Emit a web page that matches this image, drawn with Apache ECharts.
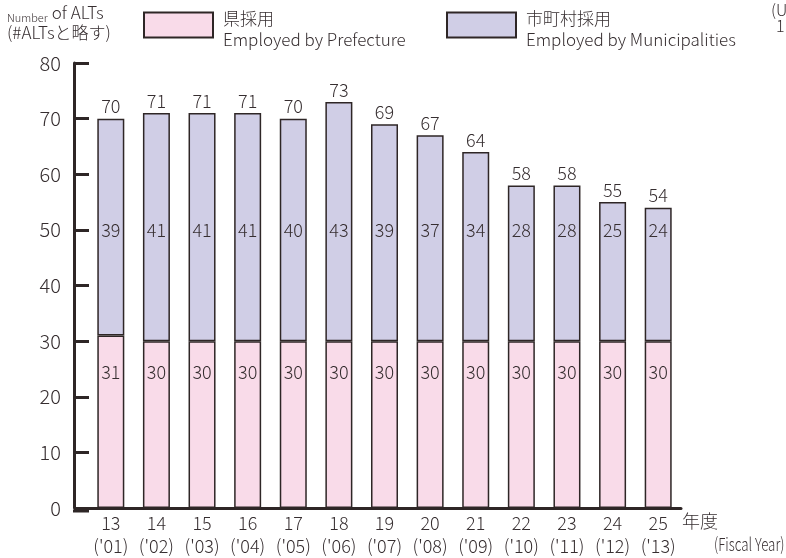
<!DOCTYPE html>
<html>
<head>
<meta charset="utf-8">
<script src="https://cdn.jsdelivr.net/npm/echarts@6/dist/echarts.min.js"></script>
<style>
  html, body { margin: 0; padding: 0; background: #fff; }
  #main { width: 786px; height: 558px; }
</style>
</head>
<body>
<div id="main"></div>
<script>
// 年度ラベル
var years = ['13', '14', '15', '16', '17', '18', '19', '20', '21', '22', '23', '24', '25'];
var fiscal = ["('01)", "('02)", "('03)", "('04)", "('05)", "('06)", "('07)", "('08)", "('09)", "('10)", "('11)", "('12)", "('13)"];
// 県採用 / 市町村採用
var prefecture = [31, 30, 30, 30, 30, 30, 30, 30, 30, 30, 30, 30, 30];
var municipal = [39, 41, 41, 41, 40, 43, 39, 37, 34, 28, 28, 25, 24];
var yTicks = [0, 10, 20, 30, 40, 50, 60, 70, 80];

var totals = prefecture.map(function (v, i) { return v + municipal[i]; });

var FONT = '"Noto Sans CJK JP", "Noto Sans", sans-serif';
var TEXT = '#362e30';
var LINE = '#2e2626';
var PINK = '#f9dbe9';
var LAV = '#d0cee6';

// 棒の中のラベルは同じ高さにそろえる
var PREF_LABEL_AT = 24.5;
var MUNI_LABEL_AT = 50;

var categories = years.map(function (y, i) { return y + '\n' + fiscal[i]; });

var myChart = echarts.init(document.getElementById('main'));

var legendText = {
    padding: [8, 0, 0, 5],
    rich: { a: { fontSize: 17, fontFamily: FONT, fontWeight: 300, color: TEXT, lineHeight: 21 } }
};

var option = {
    backgroundColor: '#fff',
    animation: false,
    textStyle: { fontFamily: FONT, color: TEXT, fontWeight: 300 },
    title: {
        left: 7,
        top: 3,
        padding: 0,
        text: '{s|Number} {l|of ALTs}\n{l|(#ALTsと略す)}',
        textStyle: {
            fontWeight: 'normal',
            rich: {
                s: { fontSize: 11, fontFamily: FONT, fontWeight: 300, color: TEXT, lineHeight: 20, verticalAlign: 'bottom' },
                l: { fontSize: 17, fontFamily: FONT, fontWeight: 300, color: TEXT, lineHeight: 20 }
            }
        }
    },
    legend: [
        {
            left: 143,
            top: 10,
            padding: 0,
            icon: 'rect',
            itemWidth: 69,
            itemHeight: 25,
            data: ['県採用'],
            itemStyle: { borderColor: LINE, borderWidth: 2 },
            formatter: function (name) {
                return '{a|' + name + '}\n{a|Employed by Prefecture}';
            },
            textStyle: legendText
        },
        {
            left: 446,
            top: 10,
            padding: 0,
            icon: 'rect',
            itemWidth: 69,
            itemHeight: 25,
            data: ['市町村採用'],
            itemStyle: { borderColor: LINE, borderWidth: 2 },
            formatter: function (name) {
                return '{a|' + name + '}\n{a|Employed by Municipalities}';
            },
            textStyle: legendText
        }
    ],
    grid: {
        left: 88,
        right: 105,
        top: 63,
        bottom: 47,
        containLabel: false
    },
    xAxis: {
        type: 'category',
        data: categories,
        axisTick: { show: false },
        axisLine: { lineStyle: { color: LINE, width: 3 } },
        axisLabel: {
            interval: 0,
            margin: 4,
            fontSize: 18,
            lineHeight: 23,
            color: TEXT,
            fontWeight: 300,
            fontFamily: FONT
        }
    },
    yAxis: {
        type: 'value',
        min: yTicks[0],
        max: yTicks[yTicks.length - 1],
        interval: 10,
        offset: 14,
        axisLine: { show: true, lineStyle: { color: LINE, width: 3 } },
        axisTick: { show: true, inside: true, length: 15, lineStyle: { color: LINE, width: 3 } },
        splitLine: { show: false },
        axisLabel: { fontSize: 20, color: TEXT, margin: 13, fontWeight: 300, fontFamily: FONT }
    },
    graphic: [
        // x軸を左端まで伸ばす
        { type: 'line', shape: { x1: 73, y1: 511, x2: 89, y2: 511 }, style: { stroke: LINE, lineWidth: 3 }, z: 10 },
        { type: 'text', left: 682, top: 512, style: { text: '年度', fill: TEXT, fontSize: 18, fontWeight: 300, fontFamily: FONT } },
        { type: 'text', x: 714, y: 535, scaleX: 0.74, scaleY: 1, style: { text: '(Fiscal Year)', fill: TEXT, fontSize: 18, fontWeight: 300, fontFamily: FONT } },
        { type: 'text', left: 771, top: 2, style: { text: '(Unit', fill: TEXT, fontSize: 16, fontWeight: 300, fontFamily: FONT } },
        { type: 'text', left: 776, top: 18, style: { text: '1', fill: TEXT, fontSize: 16, fontWeight: 300, fontFamily: FONT } }
    ],
    series: [
        {
            name: '県採用',
            type: 'bar',
            stack: 'alt',
            barWidth: 27,
            barGap: '-100%',
            itemStyle: { color: PINK, borderColor: LINE, borderWidth: 1.5 },
            data: prefecture.map(function (v) {
                return {
                    value: v,
                    label: { position: ['50%', ((v - PREF_LABEL_AT) / v * 100) + '%'] }
                };
            }),
            label: {
                show: true,
                align: 'center',
                verticalAlign: 'middle',
                fontSize: 18,
                fontWeight: 300,
                color: TEXT,
                fontFamily: FONT
            }
        },
        {
            name: '市町村採用',
            type: 'bar',
            stack: 'alt',
            barWidth: 27,
            barGap: '-100%',
            itemStyle: { color: LAV, borderColor: LINE, borderWidth: 1.5 },
            data: municipal.map(function (v, i) {
                return {
                    value: v,
                    label: { position: ['50%', ((totals[i] - MUNI_LABEL_AT) / v * 100) + '%'] }
                };
            }),
            label: {
                show: true,
                align: 'center',
                verticalAlign: 'middle',
                fontSize: 18,
                fontWeight: 300,
                color: TEXT,
                fontFamily: FONT
            }
        },
        {
            // 合計ラベル用（透明）
            name: '合計',
            type: 'bar',
            barWidth: 27,
            barGap: '-100%',
            silent: true,
            z: 1,
            itemStyle: { color: 'rgba(0,0,0,0)' },
            data: totals,
            label: {
                show: true,
                position: 'top',
                distance: 3,
                fontSize: 18,
                fontWeight: 300,
                color: TEXT,
                fontFamily: FONT
            }
        }
    ]
};
myChart.setOption(option);
</script>
</body>
</html>
